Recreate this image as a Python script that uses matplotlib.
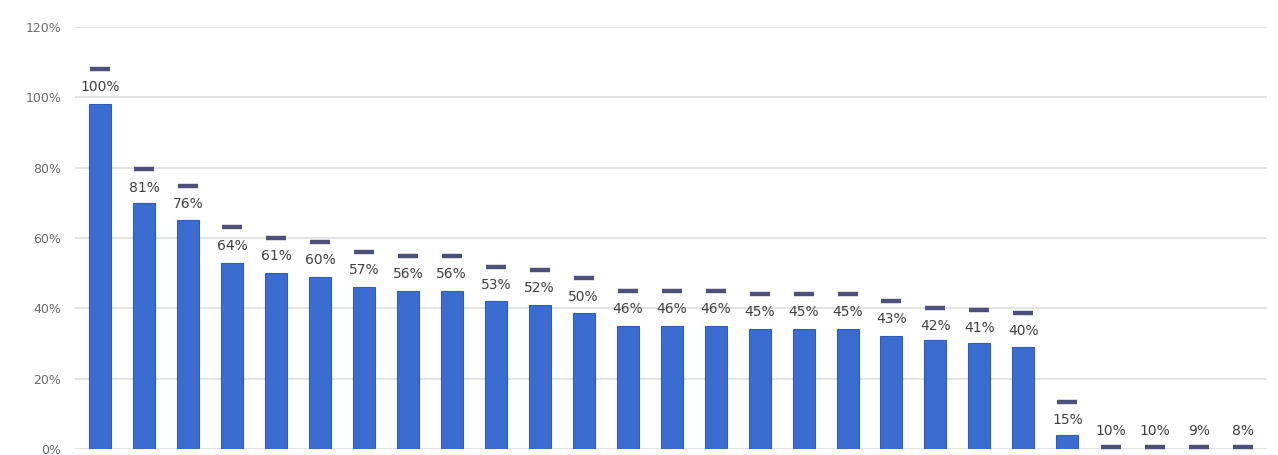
import matplotlib
matplotlib.use("Agg")
from matplotlib import pyplot as plt
import numpy as np

# values (fractions of 1)
labels = [100, 81, 76, 64, 61, 60, 57, 56, 56, 53, 52, 50, 46, 46, 46,
          45, 45, 45, 43, 42, 41, 40, 15, 10, 10, 9, 8]
bars = [0.98, 0.70, 0.65, 0.53, 0.50, 0.49, 0.46, 0.45, 0.45, 0.42, 0.41,
        0.386, 0.35, 0.35, 0.35, 0.34, 0.34, 0.34, 0.32, 0.31, 0.30, 0.29,
        0.04, 0.0, 0.0, 0.0, 0.0]
marks = [1.08, 0.795, 0.747, 0.63, 0.60, 0.59, 0.56, 0.55, 0.55, 0.517, 0.51,
         0.485, 0.45, 0.45, 0.45, 0.44, 0.44, 0.44, 0.42, 0.40, 0.395, 0.386,
         0.134, 0.005, 0.005, 0.005, 0.005]
yticks = [0, 0.2, 0.4, 0.6, 0.8, 1.0, 1.2]

x = np.arange(len(labels))

fig = plt.figure(figsize=(12.78, 4.55), dpi=100)
ax = fig.add_axes([0.0587, 0.0132, 0.933, 0.9275])

ax.bar(x, bars, width=0.5, color='#3b6dd0', edgecolor='#2f5cb9',
       linewidth=0.8, zorder=3)
ax.plot(x, marks, ls='none', marker='_', markersize=14.5,
        markeredgewidth=3.2, color='#4d5179', zorder=4)

for xi, m, lab in zip(x, marks, labels):
    if m < 0.05:
        off, va = 7, 'bottom'
    else:
        off, va = -8, 'top'
    ax.annotate(f'{lab}%', (xi, m), xytext=(0, off), textcoords='offset points',
                ha='center', va=va, fontsize=10, color='#404040', zorder=5)

ax.set_xlim(-0.57, 26.55)
ax.set_ylim(0, 1.2)
ax.set_yticks(yticks)
ax.set_yticklabels([f'{int(round(t * 100))}%' for t in yticks],
                   fontsize=9, color='#6b6b6b')
ax.set_xticks([])
ax.tick_params(axis='y', length=0, pad=10)
ax.grid(axis='y', color='#dedede', linewidth=1.2, zorder=0)
for s in ax.spines.values():
    s.set_visible(False)

fig.savefig('out.png', dpi=100)
